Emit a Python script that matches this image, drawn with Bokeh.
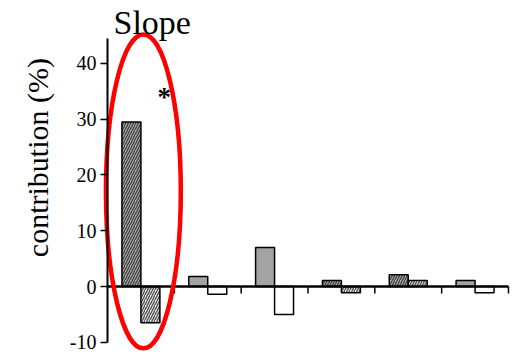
import math
from bokeh.plotting import figure
from bokeh.models import ColumnDataSource, Label, FixedTicker, Range1d
from bokeh.embed import file_html
from bokeh.resources import INLINE

# contribution (%) of each of six components to the slope
groups = [1, 2, 3, 4, 5, 6]
series_a = [29.5, 1.8, 7.0, 1.1, 2.1, 1.1]
series_b = [-6.5, -1.4, -5.0, -1.1, 1.1, -1.1]
hatched = [True, False, False, True, True, False]
y_ticks = [-10, 0, 10, 20, 30, 40]

SERIF = "Liberation Serif"
BAR_W = 0.284

# the plotting area fills the whole canvas; the y axis sits at x = 0
p = figure(width=516, height=353, output_backend="svg", toolbar_location=None,
           x_range=Range1d(-1.601, 6.12), y_range=Range1d(-12.0, 51.25),
           min_border=0)
p.title.visible = False
p.outline_line_color = None
p.grid.visible = False
p.xaxis.visible = False
p.background_fill_color = "white"
p.border_fill_color = "white"

yax = p.yaxis[0]
yax.fixed_location = 0
yax.bounds = (-10, 44.5)
yax.ticker = FixedTicker(ticks=y_ticks)
yax.major_label_overrides = {t: str(t) for t in y_ticks}
yax.axis_line_width = 2
yax.axis_line_color = "black"
yax.major_tick_in = 0
yax.major_tick_out = 7
yax.major_tick_line_width = 1.5
yax.minor_tick_line_color = None
yax.major_label_text_font = SERIF
yax.major_label_text_font_size = "20px"
yax.major_label_text_color = "black"
yax.major_label_standoff = 4

xs_a = [g - 0.5 - BAR_W / 2 for g in groups]
xs_b = [g - 0.5 + BAR_W / 2 for g in groups]

def split(xs, vals, flag):
    return dict(x=[x for x, h in zip(xs, hatched) if h == flag],
                top=[v for v, h in zip(vals, hatched) if h == flag])

# first series: solid grey, or grey with dark hatching
p.vbar(source=ColumnDataSource(split(xs_a, series_a, False)), x="x", top="top",
       bottom=0, width=BAR_W, fill_color="#a3a3a3", line_color="black", line_width=1.5)
p.vbar(source=ColumnDataSource(split(xs_a, series_a, True)), x="x", top="top",
       bottom=0, width=BAR_W, fill_color="#b0b0b0", line_color="black", line_width=1.5,
       hatch_pattern="/", hatch_color="#404040", hatch_weight=1.3, hatch_scale=5)
# second series: white, or white with grey hatching
p.vbar(source=ColumnDataSource(split(xs_b, series_b, False)), x="x", top="top",
       bottom=0, width=BAR_W, fill_color="white", line_color="black", line_width=1.5)
p.vbar(source=ColumnDataSource(split(xs_b, series_b, True)), x="x", top="top",
       bottom=0, width=BAR_W, fill_color="white", line_color="black", line_width=1.5,
       hatch_pattern="/", hatch_color="#555555", hatch_weight=1.5, hatch_scale=5)

# zero line with group separators hanging below it
p.segment(x0=[0], x1=[groups[-1]], y0=[0], y1=[0], line_color="black", line_width=2.5)
p.segment(x0=groups, x1=groups, y0=[0] * len(groups), y1=[-1.25] * len(groups),
          line_color="black", line_width=1.5)

# highlight on the first component
p.ellipse(x=0.537, y=17.05, width=1.12, height=56.25, fill_color=None,
          line_color="#ff0000", line_width=4.5)

p.add_layout(Label(x=0.85, y=31.2, text="*", text_font=SERIF, text_font_size="27px",
                   text_font_style="bold", text_align="center", text_color="black"))
p.add_layout(Label(x=0.09, y=47.3, text="Slope", text_font=SERIF, text_font_size="34px",
                   text_align="left", text_baseline="alphabetic", text_color="black"))
p.add_layout(Label(x=-1.05, y=23.1, text="contribution (%)", text_font=SERIF,
                   text_font_size="30px", angle=math.pi / 2, text_align="center",
                   text_baseline="middle", text_color="black"))

open("out.html", "w").write(file_html(p, INLINE))
